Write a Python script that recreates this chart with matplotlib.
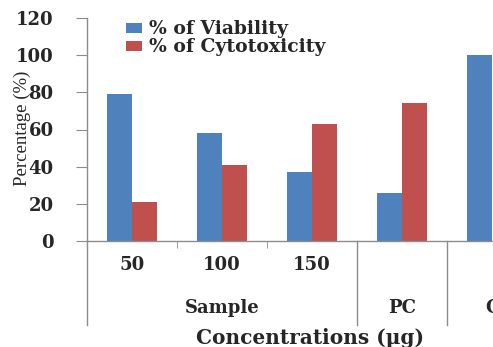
# ----- Viability / cytotoxicity bar chart -----
import matplotlib
matplotlib.use("Agg")
import matplotlib.pyplot as plt
import matplotlib.transforms as mtransforms
import numpy as np

# ----- Data -----
concentrations = ["50", "100", "150", "", ""]
groups = ["Sample", "PC", "C"]
group_spans = [(0, 2), (3, 3), (4, 4)]
viability = [79, 58, 37, 26, 100]
cytotoxicity = [21, 41, 63, 74, 0]

blue = "#4F81BD"
red = "#C0504D"
axis_grey = "#8C8C8C"
text_col = "#262626"
serif = ["DejaVu Serif"]

W, H = 493, 347
fig = plt.figure(figsize=(W / 100, H / 100), dpi=100)

# axes placed in pixel terms; right edge runs past the figure
left, right, top, bottom = 87, 537, 18, 241
ax = fig.add_axes([left / W, 1 - bottom / H, (right - left) / W, (bottom - top) / H])

x = np.arange(len(viability))
bw = 0.28
ax.bar(x - bw / 2, viability, bw, color=blue, label="% of Viability")
ax.bar(x + bw / 2, cytotoxicity, bw, color=red, label="% of Cytotoxicity")

ax.set_xlim(-0.5, len(viability) - 0.5)
ax.set_ylim(0, 120)
ax.set_yticks(np.arange(0, 121, 20))

for s in ["top", "right"]:
    ax.spines[s].set_visible(False)
for s in ["left", "bottom"]:
    ax.spines[s].set_color(axis_grey)
    ax.spines[s].set_linewidth(1.0)

ax.tick_params(axis="y", length=8, color=axis_grey, pad=16,
               labelsize=13, labelcolor=text_col)
for lab in ax.get_yticklabels():
    lab.set_family(serif)
    lab.set_fontweight("bold")

ax.set_xticks([])
ax.set_xticks([0.5, 1.5], minor=True)
ax.tick_params(axis="x", which="minor", length=5, color=axis_grey)
ax.set_xticklabels([], minor=True)

trans = mtransforms.blended_transform_factory(ax.transData, ax.transAxes)
px = 1.0 / (bottom - top)

# concentration labels
for i, c in enumerate(concentrations):
    ax.text(i, -24 * px, c, transform=trans, ha="center", va="center",
            fontsize=13, fontweight="bold", family=serif, color=text_col)

# group labels and separator lines
for g, (a, b) in zip(groups, group_spans):
    ax.text((a + b) / 2, -67 * px, g, transform=trans, ha="center", va="center",
            fontsize=13, fontweight="bold", family=serif, color=text_col)
for xs in [-0.5, 2.5, 3.5]:
    ax.plot([xs, xs], [0, -84 * px], transform=trans, color=axis_grey,
            lw=1.0, clip_on=False)

fig.text(310 / W, 1 - 338 / H, "Concentrations (\u00b5g)", ha="center", va="center",
         fontsize=14.5, fontweight="bold", family=serif, color=text_col)
fig.text(22 / W, 1 - 128 / H, "Percentage (%)", rotation=90, ha="center",
         va="center", fontsize=13.5, family=["Liberation Serif"], color=text_col)

leg = fig.legend(loc="upper left", bbox_to_anchor=(118 / W, 1 - 13 / H),
                 frameon=False, fontsize=13.5, handlelength=0.9, handleheight=0.45,
                 handletextpad=0.35, labelspacing=0.0, borderaxespad=0)
for t in leg.get_texts():
    t.set_family(serif)
    t.set_fontweight("bold")
    t.set_color(text_col)

fig.savefig("out.png", dpi=100)
